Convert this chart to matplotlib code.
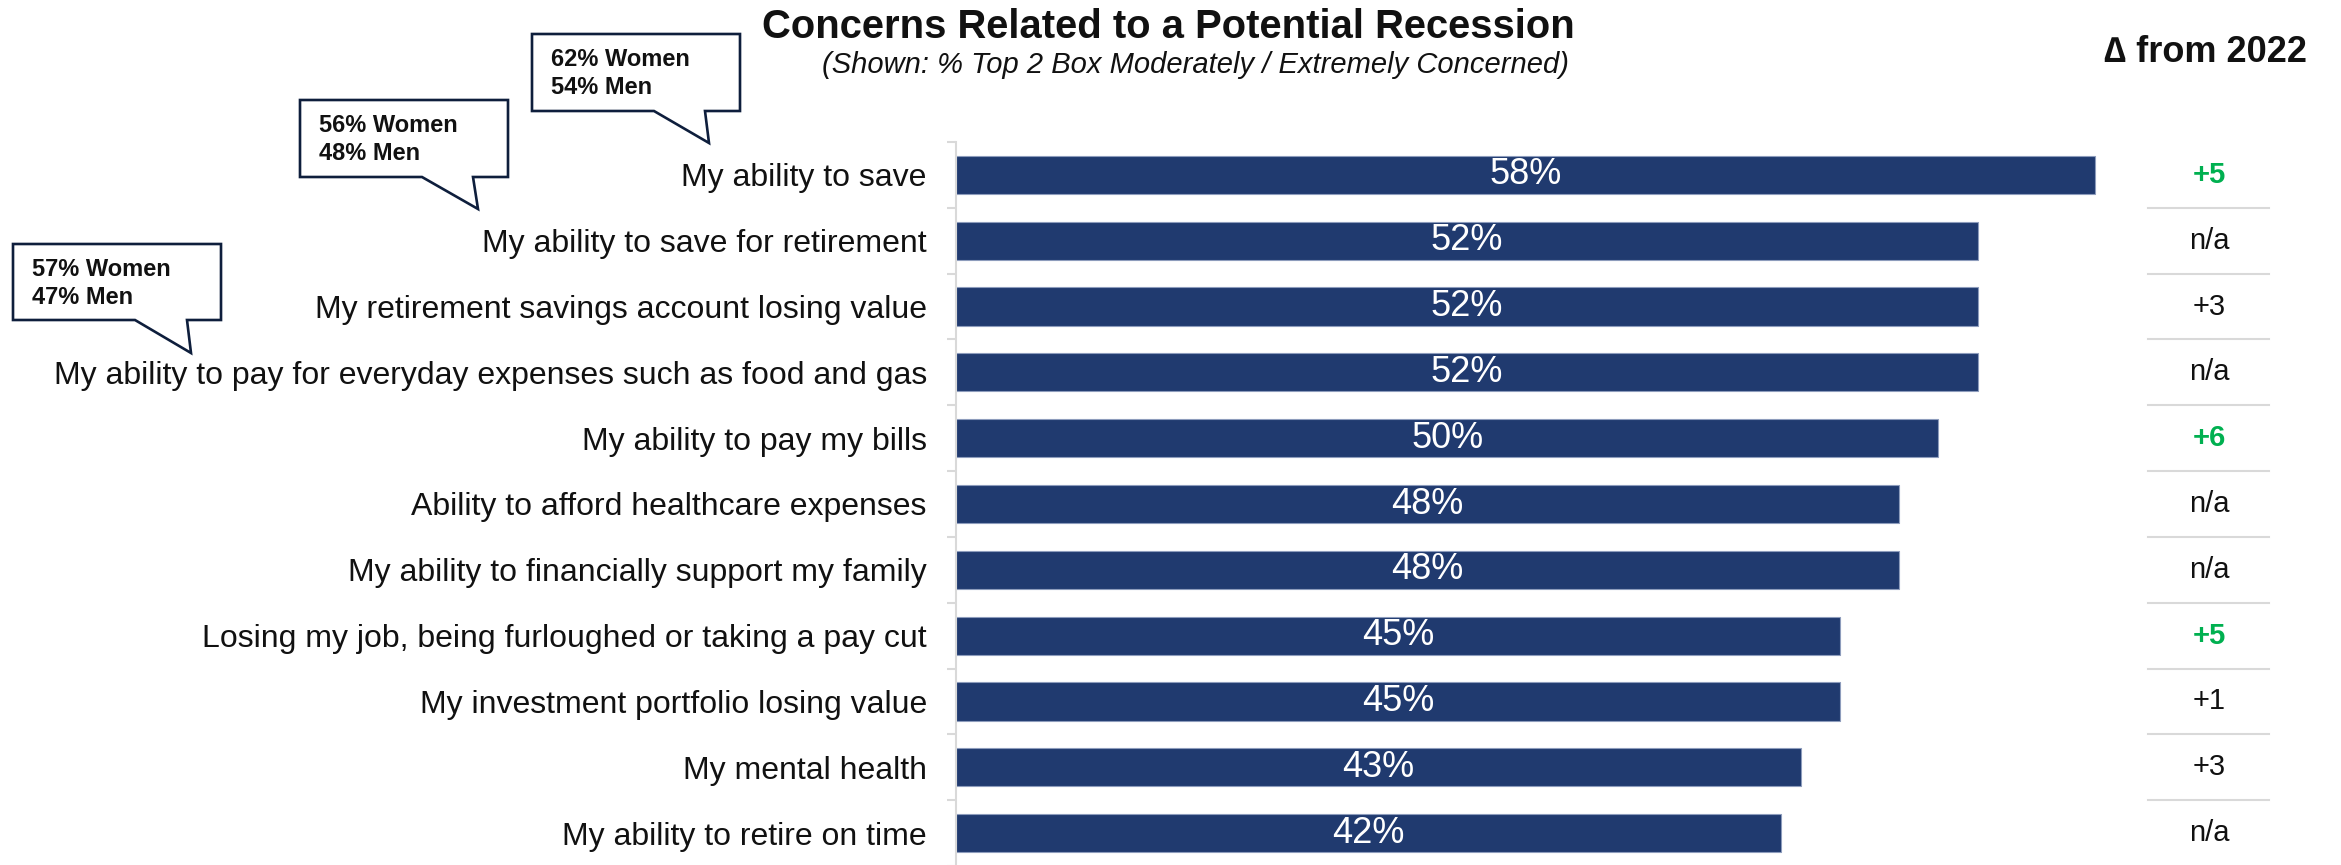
import matplotlib
matplotlib.use("Agg")
import matplotlib.pyplot as plt
from matplotlib.patches import Polygon
from matplotlib.lines import Line2D
import matplotlib.transforms as mtransforms

plt.rcParams['font.family'] = ['Liberation Sans', 'DejaVu Sans']

# ---- data ----
categories = [
    "My ability to save",
    "My ability to save for retirement",
    "My retirement savings account losing value",
    "My ability to pay for everyday expenses such as food and gas",
    "My ability to pay my bills",
    "Ability to afford healthcare expenses",
    "My ability to financially support my family",
    "Losing my job, being furloughed or taking a pay cut",
    "My investment portfolio losing value",
    "My mental health",
    "My ability to retire on time",
]
concern_pct = [58, 52, 52, 52, 50, 48, 48, 45, 45, 43, 42]
delta_2022 = ["+5", "n/a", "+3", "n/a", "+6", "n/a", "n/a", "+5", "+1", "+3", "n/a"]
delta_highlight = [True, False, False, False, True, False, False, True, False, False, False]

callout_lines = [
    ("62% Women", "54% Men"),
    ("56% Women", "48% Men"),
    ("57% Women", "47% Men"),
]

title = "Concerns Related to a Potential Recession"
subtitle = "(Shown: % Top 2 Box Moderately / Extremely Concerned)"
delta_header = "\u2206 from 2022"

# ---- styling ----
W, H, DPI = 2341, 865, 100
BAR_COLOR = "#203a6f"
GRID_GRAY = "#d9d9d9"
GREEN = "#00b050"
NAVY_LINE = "#0e1e3c"

fig = plt.figure(figsize=(W / DPI, H / DPI), dpi=DPI)


def fx(px):
    return px / W


def fy(py):
    return 1 - py / H


ax_left, ax_right, ax_top, ax_bottom = 956, 2121, 142, 866
ax = fig.add_axes([fx(ax_left), fy(ax_bottom), fx(ax_right - ax_left), (ax_bottom - ax_top) / H])

ypos = list(range(len(categories)))
ax.barh(ypos, concern_pct, height=0.58, color=BAR_COLOR,
        edgecolor="#8d9cbc", linewidth=0.8)
ax.set_xlim(0, 59.3)
ax.set_ylim(len(categories) - 0.5, -0.5)

for y, v in zip(ypos, concern_pct):
    ax.text(v / 2, y, f"{v}%", ha="center", va="center",
            color="white", fontsize=26)

ax.set_yticks(ypos)
ax.set_yticklabels(categories, fontsize=23, color="#111111")
ax.set_yticks([i - 0.5 for i in range(len(categories) + 1)], minor=True)
ax.tick_params(axis="y", which="major", length=0, pad=21)
ax.tick_params(axis="y", which="minor", length=6.5, width=1.5,
               color=GRID_GRAY, direction="out")
ax.set_xticks([])
for side in ("top", "right", "bottom"):
    ax.spines[side].set_visible(False)
ax.spines["left"].set_color(GRID_GRAY)
ax.spines["left"].set_linewidth(1.5)

# ---- change-from-2022 column ----
col_tr = mtransforms.blended_transform_factory(fig.transFigure, ax.transData)
col_x = fx(2209)
for y, d, hl in zip(ypos, delta_2022, delta_highlight):
    ax.text(col_x, y, d, transform=col_tr, ha="center", va="center",
            fontsize=21, color=GREEN if hl else "#111111",
            fontweight="bold" if hl else "normal", clip_on=False)
for i in range(len(categories) - 1):
    ax.add_line(Line2D([fx(2148), fx(2269)], [i + 0.5, i + 0.5],
                       transform=col_tr, color=GRID_GRAY, linewidth=1.5,
                       clip_on=False))
fig.text(fx(2206), fy(53), delta_header, ha="center", va="center",
         fontsize=26, fontweight="bold", color="#111111")

# ---- titles ----
fig.text(fx(1168), fy(27), title, ha="center", va="center",
         fontsize=28.8, fontweight="bold", color="#111111")
fig.text(fx(1195), fy(65), subtitle, ha="center", va="center",
         fontsize=21, fontstyle="italic", color="#111111")

# ---- speech-bubble callouts (box corners, tail base, tail tip in pixels) ----
bubbles = [
    ((532, 34, 740, 111), (654, 705), (709, 143)),
    ((300, 100, 508, 177), (422, 473), (478, 209)),
    ((13, 244, 221, 320), (135, 187), (191, 353)),
]
for (box, base, tip), (line1, line2) in zip(bubbles, callout_lines):
    x0, y0, x1, y1 = box
    pts = [(x0, y0), (x1, y0), (x1, y1), (base[1], y1), tip,
           (base[0], y1), (x0, y1)]
    poly = Polygon([(fx(px), fy(py)) for px, py in pts], closed=True,
                   transform=fig.transFigure, facecolor="white",
                   edgecolor=NAVY_LINE, linewidth=1.9, joinstyle="miter")
    fig.add_artist(poly)
    fig.text(fx(x0 + 19), fy(y0 + 25), line1, ha="left", va="center",
             fontsize=17, fontweight="bold", color="#111111")
    fig.text(fx(x0 + 19), fy(y0 + 54), line2, ha="left", va="center",
             fontsize=17, fontweight="bold", color="#111111")

fig.savefig("out.png", dpi=DPI)
